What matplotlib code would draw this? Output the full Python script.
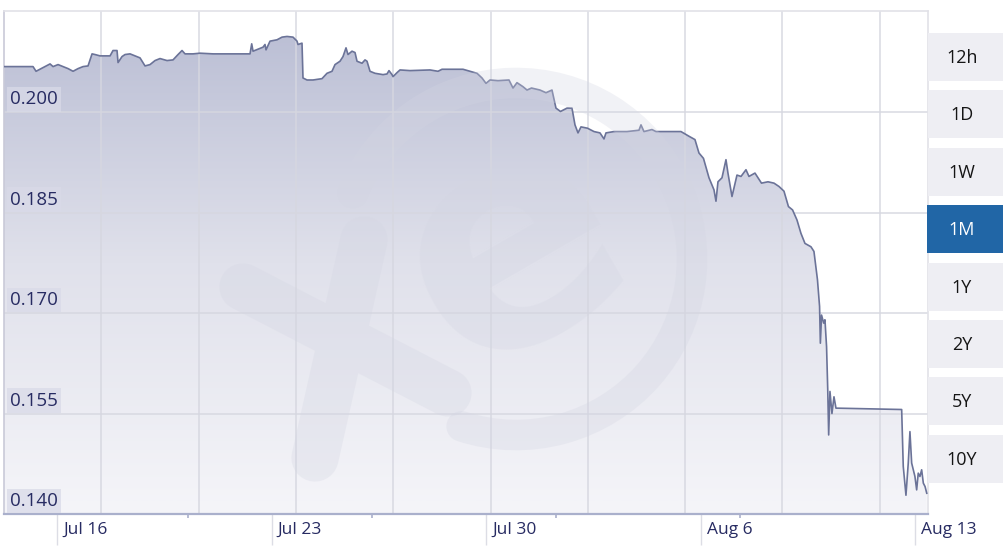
import numpy as np
import matplotlib
matplotlib.use("Agg")
import matplotlib.pyplot as plt
from matplotlib.patches import Rectangle, Arc, Polygon
from matplotlib.lines import Line2D
from matplotlib.colors import LinearSegmentedColormap
from matplotlib.transforms import blended_transform_factory

# ---- data: days since Jul 16 00:00 and TRY/USD rate ----
days = [-1.730, -0.783, -0.685, -0.228, -0.130, 0.033, 0.196, 0.359, 0.522, 0.685,
        0.848, 1.011, 1.142, 1.239, 1.402, 1.729, 1.826, 1.957, 1.990, 2.120,
        2.218, 2.381, 2.544, 2.707, 2.870, 3.033, 3.196, 3.359, 3.588, 3.783,
        3.947, 4.077, 4.175, 4.436, 4.664, 5.088, 6.295, 6.350, 6.393, 6.719,
        6.784, 6.817, 6.947, 7.175, 7.339, 7.502, 7.697, 7.828, 7.860, 7.991,
        8.023, 8.154, 8.350, 8.643, 8.806, 8.969, 9.067, 9.230, 9.328, 9.426,
        9.491, 9.622, 9.720, 9.785, 9.948, 10.046, 10.111, 10.209, 10.372, 10.633,
        10.763, 10.828, 10.926, 10.959, 11.090, 11.187, 11.513, 12.166, 12.427, 12.557,
        13.242, 13.470, 13.699, 13.862, 13.992, 14.123, 14.384, 14.742, 14.873, 15.003,
        15.199, 15.330, 15.476, 15.753, 15.949, 16.145, 16.275, 16.422, 16.634, 16.797,
        16.895, 16.993, 17.091, 17.303, 17.515, 17.710, 17.841, 17.906, 18.167, 18.591,
        18.982, 19.048, 19.145, 19.406, 19.537, 20.352, 20.613, 20.809, 20.939, 21.086,
        21.266, 21.429, 21.494, 21.559, 21.690, 21.820, 21.885, 22.016, 22.179, 22.310,
        22.473, 22.570, 22.766, 22.978, 23.190, 23.386, 23.549, 23.712, 23.858, 23.992,
        24.136, 24.266, 24.397, 24.592, 24.690, 24.804, 24.873, 24.899, 24.938, 25.007,
        25.049, 25.101, 25.140, 25.170, 25.212, 25.277, 25.343, 25.408, 25.473, 27.551,
        27.603, 27.691, 27.766, 27.821, 27.877, 27.929, 27.984, 28.040, 28.092, 28.147,
        28.203, 28.258, 28.314, 28.369]
rates = [0.2068, 0.2068, 0.2061, 0.2072, 0.2068, 0.2071, 0.2068, 0.2065, 0.2061, 0.2065,
         0.2068, 0.2069, 0.2087, 0.2086, 0.2084, 0.2084, 0.2092, 0.2092, 0.2074, 0.2083,
         0.2086, 0.2087, 0.2084, 0.2081, 0.2069, 0.2071, 0.2077, 0.2080, 0.2077, 0.2078,
         0.2086, 0.2092, 0.2087, 0.2087, 0.2088, 0.2087, 0.2087, 0.2102, 0.2091, 0.2097,
         0.2101, 0.2093, 0.2106, 0.2108, 0.2112, 0.2113, 0.2112, 0.2106, 0.2101, 0.2103,
         0.2051, 0.2048, 0.2048, 0.2050, 0.2058, 0.2061, 0.2071, 0.2076, 0.2083, 0.2096,
         0.2086, 0.2091, 0.2089, 0.2076, 0.2073, 0.2078, 0.2076, 0.2061, 0.2058, 0.2056,
         0.2057, 0.2062, 0.2056, 0.2053, 0.2059, 0.2063, 0.2062, 0.2063, 0.2061, 0.2064,
         0.2064, 0.2061, 0.2058, 0.2051, 0.2043, 0.2048, 0.2047, 0.2048, 0.2036, 0.2044,
         0.2038, 0.2033, 0.2036, 0.2033, 0.2029, 0.2033, 0.2006, 0.2001, 0.2006, 0.2006,
         0.1981, 0.1969, 0.1978, 0.1976, 0.1971, 0.1969, 0.1960, 0.1969, 0.1971, 0.1971,
         0.1973, 0.1981, 0.1971, 0.1974, 0.1971, 0.1971, 0.1964, 0.1959, 0.1939, 0.1931,
         0.1902, 0.1884, 0.1867, 0.1896, 0.1902, 0.1929, 0.1909, 0.1874, 0.1906, 0.1904,
         0.1914, 0.1904, 0.1909, 0.1894, 0.1896, 0.1894, 0.1889, 0.1882, 0.1859, 0.1854,
         0.1839, 0.1819, 0.1804, 0.1799, 0.1792, 0.1750, 0.1710, 0.1655, 0.1697, 0.1685,
         0.1690, 0.1650, 0.1585, 0.1518, 0.1583, 0.1550, 0.1575, 0.1558, 0.1558, 0.1556,
         0.1471, 0.1428, 0.1476, 0.1523, 0.1476, 0.1466, 0.1456, 0.1436, 0.1461, 0.1456,
         0.1466, 0.1446, 0.1441, 0.1431]

tick_days = [0, 7, 14, 21, 28]
tick_labels = ["Jul 16", "Jul 23", "Jul 30", "Aug 6", "Aug 13"]
minor_days = [4.27, 10.27, 16.27, 22.27]
y_ticks = [0.140, 0.155, 0.170, 0.185, 0.200]
y_labels = ["0.140", "0.155", "0.170", "0.185", "0.200"]
buttons = ["12h", "1D", "1W", "1M", "1Y", "2Y", "5Y", "10Y"]
selected = "1M"

# ---- figure ----
W, H = 1006, 547
fig = plt.figure(figsize=(W / 100, H / 100), dpi=100)
fig.patch.set_facecolor("white")
ax = fig.add_axes([4 / W, 1 - 514 / H, 924 / W, 503 / H])
xmin, xmax = -1.73, 28.41
ymin, ymax = 0.140, 0.2151
ax.set_xlim(xmin, xmax)
ax.set_ylim(ymin, ymax)
ax.set_facecolor("white")

# gradient area fill
cmap = LinearSegmentedColormap.from_list("g", ["#f5f5f9", "#e0e1eb", "#b8bcd3"])
grad = np.linspace(0, 1, 256).reshape(-1, 1)
im = ax.imshow(grad, extent=[xmin, xmax, ymin, ymax], origin="lower", aspect="auto",
               cmap=cmap, zorder=1, interpolation="bilinear")
poly = Polygon(np.column_stack([np.r_[days[0], days, days[-1]],
                                np.r_[ymin, rates, ymin]]),
               closed=True, transform=ax.transData, fc="none", ec="none")
ax.add_patch(poly)
im.set_clip_path(poly)

# grid
for v in y_ticks[1:]:
    ax.axhline(v, color="#d6d7e0", lw=1.3, alpha=0.8, zorder=2)
for k in range(1, 10):
    f = k * 97.3 / 924
    ax.plot([f, f], [0, 1], transform=ax.transAxes, color="#d6d7e0", lw=1.3,
            alpha=0.8, zorder=2)

ax.plot(days, rates, color="#6b7398", lw=1.2, zorder=4)

# spines
for s in ["top", "right"]:
    ax.spines[s].set_color("#e2e2e8")
    ax.spines[s].set_linewidth(1.2)
ax.spines["left"].set_color("#c9cad8")
ax.spines["left"].set_linewidth(1.2)
ax.spines["bottom"].set_color("#aab0cc")
ax.spines["bottom"].set_linewidth(1.6)

ax.set_yticks([])
ax.set_xticks(tick_days)
ax.set_xticks(minor_days, minor=True)
ax.tick_params(axis="x", which="major", length=22, width=1, color="#dcdde5",
               labelbottom=False)
ax.tick_params(axis="x", which="minor", length=3, width=1.2, color="#aab0cc")

tc = "#272b62"
# y labels with boxes
ytrans = blended_transform_factory(ax.transAxes, ax.transData)
for v, lab in zip(y_ticks, y_labels):
    ax.annotate(lab, xy=(0, v), xycoords=ytrans, xytext=(6, 4),
                textcoords="offset pixels", ha="left", va="bottom",
                fontsize=13.5, color=tc, family="Open Sans", zorder=6,
                bbox=dict(boxstyle="square,pad=0.18", fc="#d9dae8", ec="none",
                          alpha=0.75))

# x labels
xtrans = blended_transform_factory(ax.transData, ax.transAxes)
for d, lab in zip(tick_days, tick_labels):
    ax.annotate(lab, xy=(d, 0), xycoords=xtrans, xytext=(6, -16),
                textcoords="offset pixels", ha="left", va="center",
                fontsize=12.5, color=tc, family="Open Sans", annotation_clip=False)

# overlay (pixel coordinates) for watermark and buttons
ov = fig.add_axes([0, 0, 1, 1], zorder=5)
ov.set_xlim(0, W)
ov.set_ylim(H, 0)
ov.axis("off")
ov.patch.set_alpha(0)

wm = "#d3d5e2"
wa = 0.3
ov.add_patch(Arc((516, 259), 352, 352, theta1=-158, theta2=108, lw=22,
                 color=wm, alpha=wa, capstyle="round"))
xl = Line2D([243, 448, np.nan, 364, 315], [287, 393, np.nan, 240, 458],
            lw=34, color=wm, alpha=wa, solid_capstyle="round")
ov.add_line(xl)
ov.text(512, 250, "e", fontsize=225, fontweight="bold", color=wm, alpha=wa,
        ha="center", va="center", rotation=30, family="DejaVu Sans")

# buttons
for i, b in enumerate(buttons):
    top = 33 + i * 57.4
    sel = b == selected
    ov.add_patch(Rectangle((928 if not sel else 927, top), 75 if not sel else 76, 48,
                           fc="#2166a6" if sel else "#eeeef3", ec="none"))
    ov.text(962, top + 25, b, ha="center", va="center", fontsize=13,
            color="white" if sel else "#151515", family="Open Sans")

fig.savefig("out.png", dpi=100, facecolor="white")
